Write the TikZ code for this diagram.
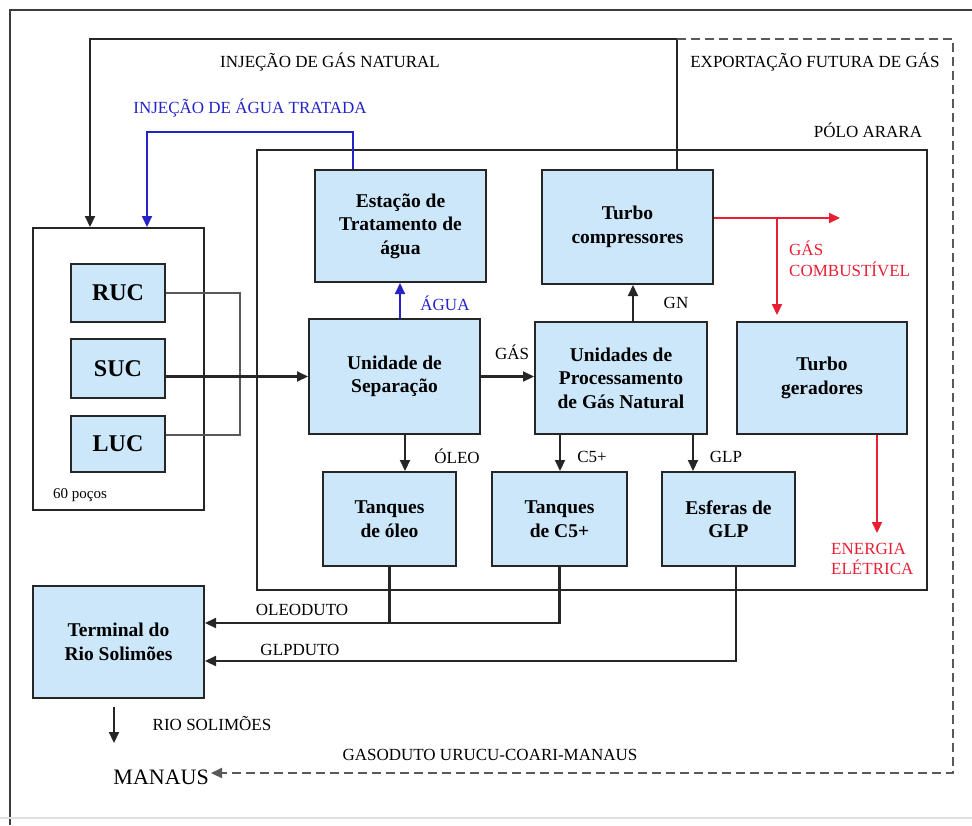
\documentclass[tikz,border=0pt]{standalone}
\usepackage{fontspec}
\setmainfont{Liberation Serif}
\usetikzlibrary{arrows.meta}
\definecolor{boxfill}{RGB}{204,231,250}
\definecolor{bluel}{RGB}{35,35,200}
\definecolor{redl}{RGB}{232,30,50}
\definecolor{framec}{RGB}{60,60,60}
\begin{document}
\begin{tikzpicture}[x=1pt,y=-1pt,
  box/.style={draw=black!85, line width=2pt, fill=boxfill, inner sep=0pt, align=center,
    font=\bfseries\fontsize{19.5}{23.5}\selectfont},
  wellbox/.style={box, font=\bfseries\fontsize{24}{26}\selectfont},
  container/.style={draw=black!85, line width=2pt, inner sep=0pt},
  lab/.style={font=\fontsize{17}{20.5}\selectfont, inner sep=1pt, align=left},
  ln/.style={line width=2.1pt, draw=black!85},
  thinln/.style={line width=1.7pt, draw=black!65},
  arr/.style={ln, -{Triangle[length=11pt,width=10pt]}},
  bluearr/.style={line width=2.1pt, draw=bluel, -{Triangle[length=11pt,width=10pt]}},
  redarr/.style={line width=2.1pt, draw=redl, -{Triangle[length=11pt,width=10pt]}},
  dashln/.style={line width=2.2pt, draw=black!65, dash pattern=on 9pt off 5pt,
    -{Triangle[length=11pt,width=10pt]}}]
\useasboundingbox (0,0) rectangle (972,825);
% outer frame
\draw[framec, line width=2.6pt] (10,825) -- (10,10) -- (972,10);
\draw[black!12, line width=1.2pt] (0,818) -- (972,818);

% containers
\node[container, minimum width=171pt, minimum height=282pt] (wells) at (118.5,369) {};
\node[container, minimum width=670pt, minimum height=440pt] (polo) at (592,370) {};

% helper coordinates
\coordinate (g1) at (677,39);
\coordinate (g2) at (90,39);
\coordinate (d1) at (953,39);
\coordinate (d2) at (953,773);
\coordinate (w1) at (147,132);
\coordinate (m1) at (240,293);
\coordinate (xa) at (400,0);
\coordinate (xo) at (405,0);
\coordinate (xgn) at (633,0);
\coordinate (xc5) at (560,0);
\coordinate (xglp) at (693,0);
\coordinate (xgd) at (736,0);
\coordinate (r0) at (840,218);
\coordinate (r1) at (777,218);
\coordinate (e1) at (877,533);
\coordinate (yo) at (0,623);
\coordinate (yg) at (0,661);
\coordinate (rs1) at (114,707);
\coordinate (rs2) at (114,743);

% boxes
\node[wellbox, minimum width=94pt, minimum height=58pt] (ruc) at (118,293) {RUC};
\node[wellbox, minimum width=94pt, minimum height=59pt] (suc) at (118,368.5) {SUC};
\node[wellbox, minimum width=94pt, minimum height=56pt] (luc) at (118,444) {LUC};
\node[box, minimum width=171pt, minimum height=112pt] (eta) at (400.5,226) {Estação de\\Tratamento de\\água};
\node[box, minimum width=171pt, minimum height=115pt] (sep) at (394.5,376.5) {Unidade de\\Separação};
\node[box, minimum width=172pt, minimum height=112pt] (upgn) at (621,378) {Unidades de\\Processamento\\de Gás Natural};
\node[box, minimum width=171pt, minimum height=114pt] (tc) at (627.5,227) {Turbo\\compressores};
\node[box, minimum width=170pt, minimum height=112pt] (tg) at (822,378) {Turbo\\geradores};
\node[box, minimum width=133pt, minimum height=94pt] (toleo) at (389.5,519) {Tanques\\de óleo};
\node[box, minimum width=135pt, minimum height=94pt] (tc5) at (559.5,519) {Tanques\\de C5+};
\node[box, minimum width=133pt, minimum height=94pt] (glp) at (728.5,519) {Esferas de\\GLP};
\node[box, minimum width=171pt, minimum height=112pt] (term) at (118.5,642) {Terminal do\\Rio Solimões};
\node[font=\fontsize{22}{24}\selectfont, inner sep=2pt, anchor=east] (manaus) at (211,777) {MANAUS};

% connectors
\draw[arr] (tc.north -| g1) -- (g1) -- (g2) -- (g2 |- wells.north);
\draw[dashln] (g1) -- (d1) -- (d2) -- (d2 -| manaus.east);
\draw[bluearr] (eta.north -| 353,0) |- (w1) -- (w1 |- wells.north);
\draw[thinln] (ruc.east) -- (ruc.east -| m1) |- ([yshift=9pt]luc.east);
\draw[arr] (suc.east |- sep.west) -- (sep.west);
\draw[arr] (sep.east) -- (sep.east -| upgn.west);
\draw[bluearr] (xa |- sep.north) -- (xa |- eta.south);
\draw[arr] (xgn |- upgn.north) -- (xgn |- tc.south);
\draw[arr] (xo |- sep.south) -- (xo |- toleo.north);
\draw[arr] (xc5 |- upgn.south) -- (xc5 |- tc5.north);
\draw[arr] (xglp |- upgn.south) -- (xglp |- glp.north);
\draw[redarr] (tc.east |- r0) -- (r0);
\draw[redarr] (r1) -- ([yshift=6pt]r1 |- tg.north);
\draw[redarr] (tg.south -| e1) -- (e1);
\draw[ln] (toleo.south) -- (toleo.south |- yo);
\draw[arr] (tc5.south) |- (term.east |- yo);
\draw[arr] (xgd |- glp.south) |- (term.east |- yg);
\draw[arr] (rs1) -- (rs2);

% labels
\node[lab] (l1) at (330,62) {INJEÇÃO DE GÁS NATURAL};
\node[lab, text=bluel] (l2) at (250,108) {INJEÇÃO DE ÁGUA TRATADA};
\node[lab] (l3) at (815,62) {EXPORTAÇÃO FUTURA DE GÁS};
\node[lab] (l4) at (868,130) {PÓLO ARARA};
\node[lab, text=bluel] (l5) at (445,303) {ÁGUA};
\node[lab] (l6) at (676,303) {GN};
\node[lab] (l7) at (512,352) {GÁS};
\node[lab, text=redl, anchor=north west] (l8) at (788,240) {GÁS\\COMBUSTÍVEL};
\node[lab, text=redl, anchor=north west] (l9) at (830,542) {ENERGIA\\ELÉTRICA};
\node[lab] (l10) at (457,456) {ÓLEO};
\node[lab] (l11) at (592,457) {C5+};
\node[lab] (l12) at (726,457) {GLP};
\node[lab, font=\fontsize{15}{17}\selectfont] (l13) at (80,495) {60 poços};
\node[lab] (l14) at (302,610) {OLEODUTO};
\node[lab] (l15) at (300,650) {GLPDUTO};
\node[lab] (l16) at (212,723) {RIO SOLIMÕES};
\node[lab] (l17) at (490,755) {GASODUTO URUCU-COARI-MANAUS};
\end{tikzpicture}
\end{document}
